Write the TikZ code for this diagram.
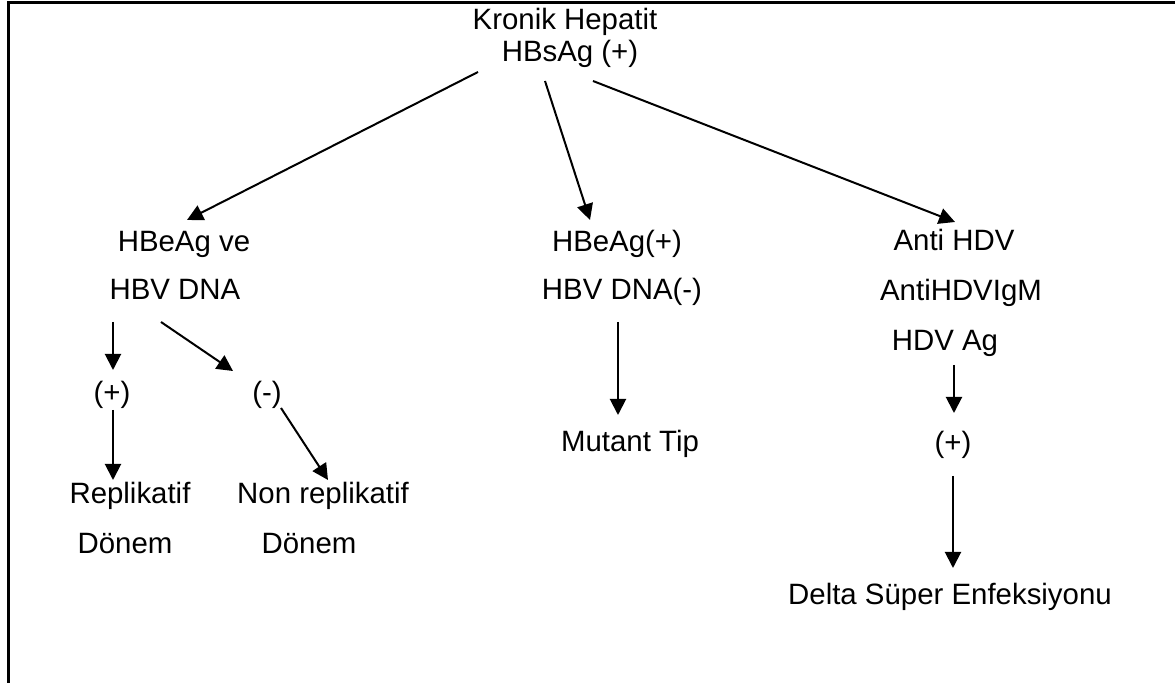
\documentclass[tikz,border=0pt]{standalone}
\usepackage{fontspec}
\setmainfont{Liberation Sans}
\usetikzlibrary{arrows.meta}
\tikzset{
  lbl/.style={anchor=base, inner sep=0pt, font=\fontsize{14.7}{17}\selectfont},
  arr/.style={->, line width=1pt},
}
\begin{document}
\begin{tikzpicture}[x=0.5pt, y=-0.5pt, >={Triangle[length=8pt,width=8pt]}]
\useasboundingbox (0,0) rectangle (1175,683);
\draw[line width=1.5pt] (8,683)--(8,3)--(1175,3);

% top
\node[lbl] (kronik) at (565,30) {Kronik Hepatit};
\node[lbl] (hbsag) at (570,62) {HBsAg (+)};

% left branch
\node[lbl] (heag) at (184,252) {HBeAg ve};
\node[lbl] (hbvdna) at (175,300) {HBV DNA};
\node[lbl] (plusl) at (112,403) {(+)};
\node[lbl] (minus) at (267,403) {(-)};
\node[lbl] (repl) at (130,504) {Replikatif};
\node[lbl] (donema) at (125,554) {Dönem};
\node[lbl] (nonrep) at (323,504) {Non replikatif};
\node[lbl] (donemb) at (309,554) {Dönem};

% middle branch
\node[lbl] (heagp) at (617,252) {HBeAg(+)};
\node[lbl] (hbvneg) at (622,300) {HBV DNA(-)};
\node[lbl] (mutant) at (630,452) {Mutant Tip};

% right branch
\node[lbl] (antihdv) at (954,251) {Anti HDV};
\node[lbl] (igm) at (961,301) {AntiHDVIgM};
\node[lbl] (hdvag) at (945,351) {HDV Ag};
\node[lbl] (plusr) at (953,453) {(+)};
\node[lbl] (delta) at (950,605) {Delta Süper Enfeksiyonu};

\draw[arr] ([shift={(-92,10)}]hbsag.base) -- ([shift={(3,-32)}]heag.base);
\draw[arr] ([shift={(-25,19)}]hbsag.base) -- ([shift={(-27,-32)}]heagp.base);
\draw[arr] ([shift={(23,19)}]hbsag.base) -- ([shift={(1,-29)}]antihdv.base);

\draw[arr] ([shift={(-62,22)}]hbvdna.base) -- ([shift={(1,-33)}]plusl.base);
\draw[arr] ([shift={(-14,22)}]hbvdna.base) -- ([shift={(-34,-32)}]minus.base);
\draw[arr] ([shift={(1,7)}]plusl.base) -- ([shift={(-17,-24)}]repl.base);
\draw[arr] ([shift={(14,5)}]minus.base) -- ([shift={(5,-24)}]nonrep.base);

\draw[arr] ([shift={(-4,22)}]hbvneg.base) -- ([shift={(-12,-37)}]mutant.base);

\draw[arr] ([shift={(9,14)}]hdvag.base) -- ([shift={(1,-40)}]plusr.base);
\draw[arr] ([shift={(0,23)}]plusr.base) -- ([shift={(3,-37)}]delta.base);

\end{tikzpicture}
\end{document}
